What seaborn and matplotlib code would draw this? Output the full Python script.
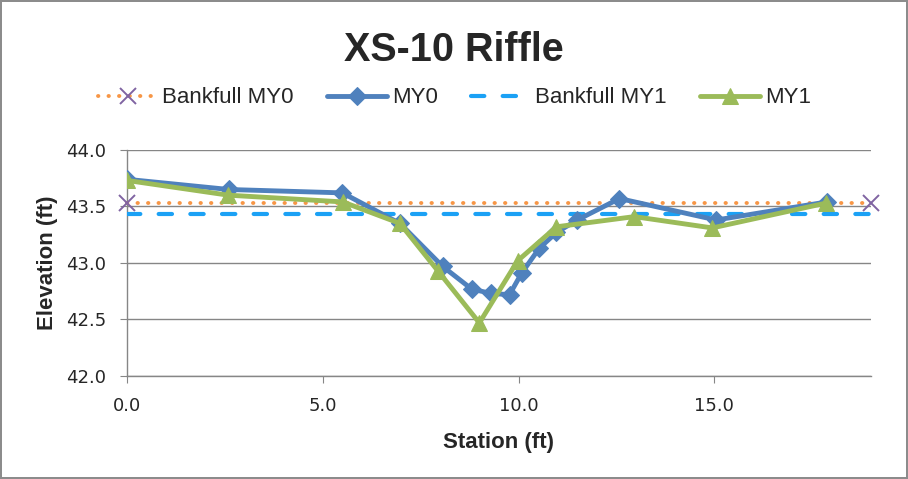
import numpy as np
import pandas as pd
import matplotlib
matplotlib.use("Agg")
import matplotlib.pyplot as plt
import seaborn as sns

# ================================
# Data
# ================================
my0_station = [0.0, 2.6, 5.5, 6.97, 8.06, 8.8, 9.3, 9.77, 10.08, 10.53, 10.97, 11.5, 12.58, 15.05, 17.88]
my0_elev = [43.74, 43.65, 43.62, 43.35, 42.97, 42.77, 42.73, 42.72, 42.91, 43.13, 43.27, 43.38, 43.57, 43.38, 43.54]

my1_station = [0.0, 2.58, 5.51, 6.97, 7.94, 9.0, 9.98, 10.97, 12.96, 14.95, 17.86]
my1_elev = [43.73, 43.6, 43.54, 43.35, 42.93, 42.47, 43.02, 43.32, 43.41, 43.31, 43.53]

bkf_station = [0.0, 19.0]
bkf_my0 = [43.53, 43.53]
bkf_my1 = [43.43, 43.43]

x_ticks = [0, 5, 10, 15]
y_ticks = [42.0, 42.5, 43.0, 43.5, 44.0]

# ================================
# Style
# ================================
sns.set_style("white")
plt.rcParams["font.family"] = ["Liberation Sans", "DejaVu Sans"]

fig, ax = plt.subplots(figsize=(9.08, 4.79), dpi=100)
fig.subplots_adjust(left=0.14, right=0.959, top=0.687, bottom=0.215)
fig.patch.set_edgecolor("#8c8c8c")
fig.patch.set_linewidth(1.5)

# ================================
# Lines
# ================================
sns.lineplot(x=bkf_station, y=bkf_my0, ax=ax, color="#F79646", linewidth=2.8,
             linestyle=(0, (0.1, 2.6)), dash_capstyle="round",
             marker="x", markersize=11, markeredgewidth=1.4,
             markeredgecolor="#8064A2", label="Bankfull MY0", sort=False,
             clip_on=False, zorder=3)
sns.lineplot(x=my0_station, y=my0_elev, ax=ax, color="#4F81BD", linewidth=3.5,
             marker="D", markersize=9, markeredgecolor="#4F81BD",
             label="MY0", sort=False, zorder=4)
sns.lineplot(x=bkf_station, y=bkf_my1, ax=ax, color="#1BA1F5", linewidth=3,
             linestyle=(0, (3.2, 4.4)), dash_capstyle="round",
             label="Bankfull MY1", sort=False, zorder=3)
sns.lineplot(x=my1_station, y=my1_elev, ax=ax, color="#9BBB59", linewidth=3.5,
             marker="^", markersize=12, markeredgecolor="#9BBB59",
             label="MY1", sort=False, zorder=5)

# ================================
# Axes
# ================================
ax.set_xlim(0, 19)
ax.set_ylim(42.0, 44.0)
ax.set_xticks(x_ticks)
ax.set_xticklabels([f"{t:.1f}" for t in x_ticks], family="DejaVu Sans")
ax.set_yticks(y_ticks)
ax.set_yticklabels([f"{t:.1f}" for t in y_ticks], family="DejaVu Sans")
ax.tick_params(axis="both", labelsize=13, length=5, color="#868686",
               direction="out", bottom=True, left=True, pad=10)
ax.yaxis.grid(True, color="#868686", linewidth=1)
ax.set_axisbelow(True)
for side in ["top", "right"]:
    ax.spines[side].set_visible(False)
for side in ["left", "bottom"]:
    ax.spines[side].set_color("#868686")
    ax.spines[side].set_linewidth(1)

ax.set_xlabel("Station (ft)", fontsize=16, fontweight="bold", labelpad=12)
ax.set_ylabel("Elevation (ft)", fontsize=16, fontweight="bold", labelpad=6)

fig.suptitle("XS-10 Riffle", fontsize=28.5, fontweight="bold", y=0.935)

ax.legend(loc="center", bbox_to_anchor=(0.44, 1.23), ncol=4, frameon=False,
          fontsize=16, handlelength=2.7, handletextpad=0.2, columnspacing=1.5)

fig.savefig("out.png", dpi=100)
